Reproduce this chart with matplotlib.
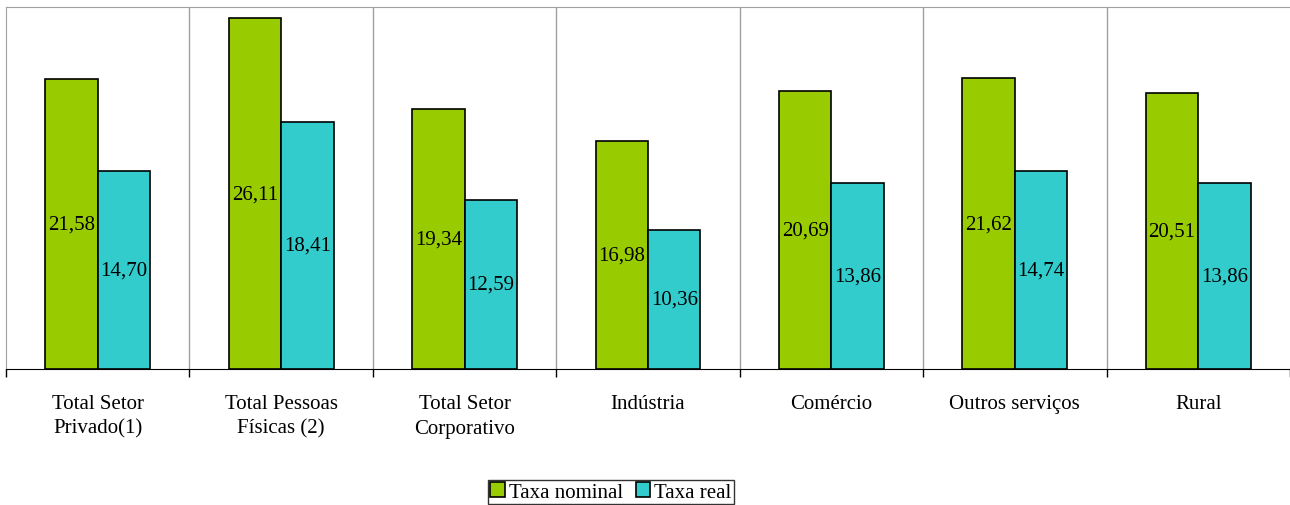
import numpy as np
import matplotlib.pyplot as plt

categories = ["Total Setor\nPrivado(1)", "Total Pessoas\nFísicas (2)", "Total Setor\nCorporativo",
              "Indústria", "Comércio", "Outros serviços", "Rural"]
nominal = [21.58, 26.11, 19.34, 16.98, 20.69, 21.62, 20.51]
real = [14.70, 18.41, 12.59, 10.36, 13.86, 14.74, 13.86]

plt.rcParams['font.family'] = ['Liberation Serif', 'DejaVu Serif']

fig = plt.figure(figsize=(12.9, 5.06), dpi=100)
ax = fig.add_axes([6/1290, 1 - 370/506, 1284/1290, 362/506])

x = np.arange(len(categories))
w = 0.286
b1 = ax.bar(x - w/2, nominal, w, color='#99CC00', edgecolor='black', linewidth=1.2, label='Taxa nominal', zorder=3)
b2 = ax.bar(x + w/2, real, w, color='#33CCCC', edgecolor='black', linewidth=1.2, label='Taxa real', zorder=3)

for bars, vals in ((b1, nominal), (b2, real)):
    for r, v in zip(bars, vals):
        ax.text(r.get_x() + r.get_width()/2, v/2, f"{v:.2f}".replace('.', ','),
                ha='center', va='center', fontsize=15, zorder=4)

ax.set_xlim(-0.5, len(categories) - 0.5)
ax.set_ylim(0, 26.94)
ax.set_yticks([])

# category separators
for b in np.arange(0.5, len(categories) - 0.5, 1):
    ax.axvline(b, color='#a0a0a0', linewidth=1, zorder=1)

ax.set_xticks(np.arange(-0.5, len(categories) + 0.5, 1))
ax.set_xticklabels([])
ax.set_xticks(x, minor=True)
ax.set_xticklabels(categories, minor=True, fontsize=15, linespacing=1.4)
ax.tick_params(axis='x', which='major', length=6, width=1, color='black')
ax.tick_params(axis='x', which='minor', length=0, pad=18)

for s in ('top', 'left', 'right'):
    ax.spines[s].set_color('#a0a0a0')
ax.spines['right'].set_visible(False)
ax.spines['bottom'].set_color('black')

leg = fig.legend(loc='center', bbox_to_anchor=(611/1290, 1 - 493/506), ncol=2, fontsize=15,
                 frameon=True, fancybox=False, edgecolor='black', handlelength=0.7,
                 handleheight=0.7, handletextpad=0.2, columnspacing=0.6,
                 borderpad=0.12, borderaxespad=0)
leg.get_frame().set_linewidth(1)

fig.savefig('out.png', dpi=100)
